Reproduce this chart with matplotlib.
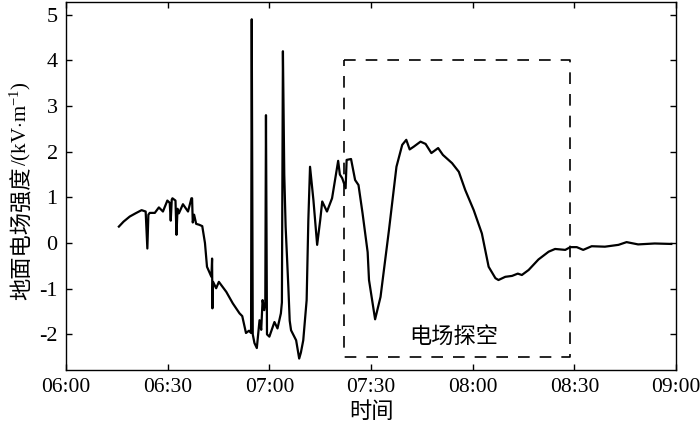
import matplotlib
matplotlib.use("Agg")
import matplotlib.pyplot as plt
import datetime as dt

# minutes after 06:00
minutes = [15.6, 17.0, 18.8, 20.5, 22.3, 23.5, 24.0, 24.3, 24.7, 26.2, 27.4, 28.6, 29.9, 30.6, 30.9, 31.2,
           31.4, 32.3, 32.6, 32.9, 33.3, 34.5, 36.0, 37.0, 37.2, 37.4, 37.8, 38.4, 39.3, 40.2,
           41.0, 41.6, 42.9, 43.1, 43.2, 43.4, 44.3, 45.1, 47.3, 49.2, 51.2, 52.0, 53.1, 54.0, 54.6,
           54.8, 55.1, 55.6, 56.3, 57.1, 57.6, 58.0, 58.5, 58.8, 59.0, 59.3, 60.0, 61.5, 62.4, 63.4,
           63.7, 64.0, 64.4, 64.8, 65.6, 66.0, 66.4, 67.9, 68.8, 69.3, 70.0, 71.0, 71.5, 72.0, 73.0,
           74.1, 75.0, 75.6, 77.0, 78.5, 80.3, 80.8, 81.5, 82.5, 82.8, 84.1, 85.3, 86.3, 87.5, 89.0,
           89.4, 91.2, 92.8, 95.3, 97.5, 99.2, 100.4, 101.4, 102.6, 104.6, 106.1, 107.8, 109.8, 111.2,
           113.9, 115.9, 117.8, 120.3, 122.7, 124.7, 126.7, 127.6, 129.6, 131.6, 133.3, 134.5, 136.5,
           139.4, 142.4, 144.3, 147.3, 148.8, 150.7, 152.6, 155.1, 159.0, 163.0, 165.4, 168.8, 173.7,
           178.6]
field = [0.36, 0.47, 0.58, 0.65, 0.72, 0.69, -0.12, 0.62, 0.66, 0.66, 0.78, 0.69, 0.93, 0.88, 0.49, 0.95,
         0.98, 0.93, 0.18, 0.75, 0.65, 0.85, 0.69, 0.98, 0.98, 0.45, 0.62, 0.42, 0.40, 0.37,
         0.0, -0.52, -0.74, -0.34, -1.43, -0.85, -0.99, -0.85, -1.07, -1.32, -1.54, -1.60, -1.97, -1.92, -1.97,
         4.9, -2.0, -2.19, -2.3, -1.69, -1.9, -1.25, -1.47, -1.3, 2.8, -2.0, -2.05, -1.73, -1.87, -1.54,
         -1.3, 4.2, 1.5, 0.36, -0.96, -1.7, -1.91, -2.13, -2.53, -2.4, -2.13, -1.25, 0.5, 1.67, 0.94,
         -0.04, 0.5, 0.91, 0.69, 0.98, 1.8, 1.5, 1.42, 1.2, 1.82, 1.84, 1.38, 1.27, 0.65, -0.2,
         -0.81, -1.67, -1.18, 0.29, 1.67, 2.15, 2.26, 2.05, 2.11, 2.22, 2.17, 1.97, 2.08, 1.93,
         1.75, 1.56, 1.16, 0.72, 0.21, -0.52, -0.77, -0.81, -0.74, -0.72, -0.67, -0.70, -0.59,
         -0.36, -0.19, -0.13, -0.15, -0.09, -0.09, -0.15, -0.07, -0.08, -0.04, 0.02, -0.03, -0.01,
         -0.02]

box_minutes = [82.1, 148.7]
box_field = [-2.5, 4.0]
box_label = "电场探空"
xtick_labels = ["06:00", "06:30", "07:00", "07:30", "08:00", "08:30", "09:00"]
ytick_values = [-2, -1, 0, 1, 2, 3, 4, 5]
ylabel_cn = "地面电场强度"
ylabel_unit = r"/(kV$\cdot$m$^{-1}$)"
xlabel = "时间"

CJK = ['Noto Sans CJK SC']
plt.rcParams['font.family'] = ['Liberation Serif', 'DejaVu Serif']
plt.rcParams['font.size'] = 16
plt.rcParams['mathtext.fontset'] = 'custom'
plt.rcParams['mathtext.rm'] = 'Liberation Serif'
plt.rcParams['mathtext.it'] = 'Liberation Serif:italic'
plt.rcParams['mathtext.default'] = 'rm'

base = dt.datetime(2020, 1, 1, 6, 0)
to_time = lambda m: base + dt.timedelta(minutes=m)
times = [to_time(m) for m in minutes]

fig = plt.figure(figsize=(7.0, 4.26), dpi=100)
ax = fig.add_axes([0.0943, 0.1315, 0.8715, 0.864])

ax.plot(times, field, color='black', lw=1.6)

x0, x1 = to_time(box_minutes[0]), to_time(box_minutes[1])
y0, y1 = box_field
ax.plot([x0, x1, x1, x0, x0], [y1, y1, y0, y0, y1], color='black', lw=1.2,
        dashes=(7, 6))
ax.text(to_time((box_minutes[0] + box_minutes[1]) / 2 - 1), -2.05, box_label,
        ha='center', va='center', fontsize=16, family=CJK)

ax.set_xlim(to_time(0), to_time(180))
ax.set_ylim(-2.78, 5.28)
ax.set_xticks([to_time(30 * i) for i in range(7)])
ax.set_xticklabels(xtick_labels)
ax.set_yticks(ytick_values)
ax.set_yticklabels([str(v) for v in ytick_values])
ax.tick_params(direction='in', length=4.5, width=1, top=True, right=True, pad=6)
ax.tick_params(axis='x', labelsize=15.5)
for s in ax.spines.values():
    s.set_linewidth(1.0)

ax.set_xlabel(xlabel, family=CJK, labelpad=2)

# y label in two pieces: Chinese part + unit part with superscript
t1 = fig.text(22 / 700, 1 - 300 / 426, ylabel_cn, rotation=90, ha='center', va='bottom',
              family=CJK, fontsize=16)
ax.annotate(ylabel_unit, xy=(0.5, 1.0), xycoords=t1, rotation=90, ha='center', va='bottom',
            xytext=(-1.5, 0), textcoords='offset points', fontsize=15)

fig.savefig('out.png', dpi=100)
